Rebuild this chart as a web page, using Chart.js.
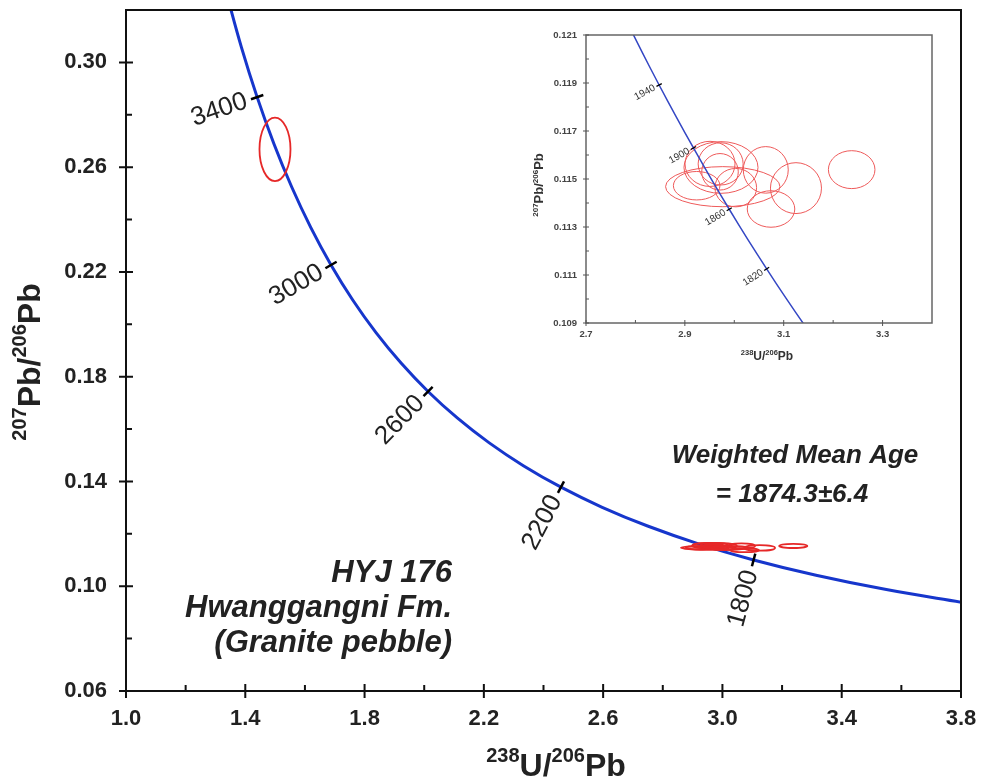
<!DOCTYPE html>
<html><head><meta charset="utf-8">
<script src="https://cdn.jsdelivr.net/npm/chart.js@4.4.1/dist/chart.umd.min.js"></script>
<style>
html,body{margin:0;padding:0;background:#fff}
#wrap{position:relative;width:981px;height:783px;overflow:hidden}
#main{position:absolute;left:0;top:0}
#inset{position:absolute;left:480px;top:20px}
</style>
</head><body>
<div id="wrap"><canvas id="main" width="981" height="783"></canvas><canvas id="inset" width="470" height="355"></canvas></div>
<script>
// ---------- DATA ----------
// Concordia curve (Tera-Wasserburg), ages in Ma
const concAge = [1500,1600,1700,1800,1900,2000,2100,2200,2300,2400,2500,2600,2700,2800,2900,3000,3100,3200,3300,3400,3500,3600];
const concX = [3.81698,3.54967,3.31396,3.10458,2.91738,2.74901,2.59682,2.45857,2.33245,2.21695,2.11081,2.01291,1.92236,1.83837,1.76027,1.68745,1.61941,1.55570,1.49593,1.43975,1.38686,1.33697];
const concY = [0.093597,0.098716,0.104187,0.110036,0.116293,0.122986,0.130150,0.137821,0.146034,0.154831,0.164261,0.174366,0.185201,0.196819,0.209281,0.222656,0.237010,0.252419,0.268963,0.286735,0.305830,0.326344];
const mainTickAges = [1800,2200,2600,3000,3400];

// Inset concordia segment
const insetAge = [1780,1800,1820,1840,1860,1880,1900,1920,1940,1960,1980];
const insetX = [3.14455,3.10458,3.06548,3.02724,2.98982,2.95320,2.91738,2.88229,2.84793,2.81428,2.78133];
const insetY = [0.108834,0.110036,0.111254,0.112487,0.113739,0.115007,0.116293,0.117596,0.118916,0.120255,0.121612];
const insetTickAges = [1820,1860,1900,1940];

// Error ellipses: centre and semi-axes (data units)
const ellX  = [1.4996,2.9767,2.9239,2.9731,2.9509,2.9724,2.9711,3.0030,3.0637,3.1248,3.0743,3.2375];
const ellY  = [0.2668,0.11468,0.11472,0.11548,0.11563,0.11563,0.11530,0.11464,0.11538,0.11462,0.11375,0.11539];
const ellRX = [0.052,0.1157,0.0471,0.0749,0.0506,0.0455,0.037,0.0421,0.0455,0.0516,0.0481,0.0471];
const ellRY = [0.0121,0.000835,0.000593,0.001077,0.00094,0.00088,0.00076,0.0008,0.00097,0.00106,0.00076,0.00079];

// Tick labels
const xTicks = [1.0,1.4,1.8,2.2,2.6,3.0,3.4,3.8];
const xMinor = [1.2,1.6,2.0,2.4,2.8,3.2,3.6];
const yTicks = [0.06,0.10,0.14,0.18,0.22,0.26,0.30];
const yMinor = [0.08,0.12,0.16,0.20,0.24,0.28];
const ixTicks = [2.7,2.9,3.1,3.3];
const ixMinor = [2.8,3.0,3.2];
const iyTicks = [0.109,0.111,0.113,0.115,0.117,0.119,0.121];
const iyMinor = [0.110,0.112,0.114,0.116,0.118,0.120];

// ---------- HELPERS ----------
const FONT = '"Liberation Sans", Arial, Helvetica, sans-serif';

function noPad(s){ s.paddingTop=0; s.paddingBottom=0; s.paddingLeft=0; s.paddingRight=0; }

function drawEllipses(chart, color, lw){
  const {ctx, chartArea:a, scales:{x,y}} = chart;
  ctx.save();
  ctx.beginPath(); ctx.rect(a.left,a.top,a.right-a.left,a.bottom-a.top); ctx.clip();
  ctx.strokeStyle = color; ctx.lineWidth = lw;
  for (let i=0;i<ellX.length;i++){
    const cx = x.getPixelForValue(ellX[i]), cy = y.getPixelForValue(ellY[i]);
    const rx = Math.abs(x.getPixelForValue(ellX[i]+ellRX[i])-cx);
    const ry = Math.abs(y.getPixelForValue(ellY[i]+ellRY[i])-cy);
    ctx.beginPath(); ctx.ellipse(cx,cy,rx,ry,0,0,Math.PI*2); ctx.stroke();
  }
  ctx.restore();
}

function ageMarks(chart, ages, X, Y, list, o){
  const {ctx, scales:{x,y}} = chart;
  ctx.save();
  list.forEach(age=>{
    const i = ages.indexOf(age);
    const px=x.getPixelForValue(X[i]), py=y.getPixelForValue(Y[i]);
    const ax=x.getPixelForValue(X[i-1]), ay=y.getPixelForValue(Y[i-1]);
    const bx=x.getPixelForValue(X[i+1]), by=y.getPixelForValue(Y[i+1]);
    let tx=bx-ax, ty=by-ay; const L=Math.hypot(tx,ty); tx/=L; ty/=L;
    let nx=-ty, ny=tx; if (nx>0){nx=-nx;ny=-ny;}
    ctx.strokeStyle='#000'; ctx.lineWidth=o.tw;
    ctx.beginPath(); ctx.moveTo(px-nx*o.th,py-ny*o.th); ctx.lineTo(px+nx*o.th,py+ny*o.th); ctx.stroke();
    ctx.save();
    ctx.translate(px+nx*o.gap, py+ny*o.gap);
    ctx.rotate(Math.atan2(-ny,-nx));
    ctx.fillStyle=o.color; ctx.font=o.font; ctx.textAlign='right'; ctx.textBaseline='middle';
    ctx.fillText(String(age),0,0);
    ctx.restore();
  });
  ctx.restore();
}

function axisTicks(chart, xMaj, xMin, yMaj, yMin, majIn, majOut, minIn, lw, color){
  const {ctx, chartArea:a, scales:{x,y}} = chart;
  ctx.save(); ctx.strokeStyle=color; ctx.lineWidth=lw; ctx.beginPath();
  xMaj.forEach(v=>{const p=x.getPixelForValue(v); ctx.moveTo(p,a.bottom+majOut); ctx.lineTo(p,a.bottom-majIn);});
  xMin.forEach(v=>{const p=x.getPixelForValue(v); ctx.moveTo(p,a.bottom); ctx.lineTo(p,a.bottom-minIn);});
  yMaj.forEach(v=>{const p=y.getPixelForValue(v); ctx.moveTo(a.left-majOut,p); ctx.lineTo(a.left+majIn,p);});
  yMin.forEach(v=>{const p=y.getPixelForValue(v); ctx.moveTo(a.left,p); ctx.lineTo(a.left+minIn,p);});
  ctx.stroke(); ctx.restore();
}

function drawRich(ctx, parts, cx, by, M, m, raise, color){
  let w=0;
  parts.forEach(p=>{ctx.font='bold '+(p.s?m:M)+'px '+FONT; p.w=ctx.measureText(p.t).width; w+=p.w;});
  let x0=cx-w/2;
  ctx.fillStyle=color; ctx.textAlign='left'; ctx.textBaseline='alphabetic';
  parts.forEach(p=>{ctx.font='bold '+(p.s?m:M)+'px '+FONT; ctx.fillText(p.t,x0,by-(p.s?raise:0)); x0+=p.w;});
}
const yTitleParts = ()=>[{t:'207',s:true},{t:'Pb/'},{t:'206',s:true},{t:'Pb'}];
const xTitleParts = ()=>[{t:'238',s:true},{t:'U/'},{t:'206',s:true},{t:'Pb'}];

// ---------- MAIN CHART ----------
const mainDeco = {
  id:'mainDeco',
  afterDatasetsDraw(chart){
    drawEllipses(chart,'#e62828',1.8);
    ageMarks(chart, concAge, concX, concY, mainTickAges,
      {th:6.5, tw:2.5, gap:11, color:'#222', font:'26px '+FONT});
  },
  afterDraw(chart){
    const {ctx, chartArea:a} = chart;
    ctx.save();
    ctx.strokeStyle='#111'; ctx.lineWidth=2;
    ctx.strokeRect(a.left,a.top,a.right-a.left,a.bottom-a.top);
    ctx.restore();
    axisTicks(chart, xTicks, xMinor, yTicks, yMinor, 7, 7, 6, 2, '#111');
    // axis titles
    ctx.save();
    drawRich(ctx, xTitleParts(), 556, 776, 32, 20, 14, '#222');
    ctx.translate(40, 362); ctx.rotate(-Math.PI/2);
    drawRich(ctx, yTitleParts(), 0, 0, 32, 20, 14, '#222');
    ctx.restore();
    // annotations
    ctx.save();
    ctx.fillStyle='#222';
    ctx.font='italic bold 31px '+FONT; ctx.textAlign='right'; ctx.textBaseline='alphabetic';
    ctx.fillText('HYJ 176', 452, 582);
    ctx.fillText('Hwanggangni Fm.', 452, 617);
    ctx.fillText('(Granite pebble)', 452, 652);
    ctx.font='italic bold 26px '+FONT; ctx.textAlign='center';
    ctx.fillText('Weighted Mean Age', 795, 463);
    ctx.fillText('= 1874.3\u00B16.4', 792, 502);
    ctx.restore();
  }
};

new Chart(document.getElementById('main'), {
  type:'scatter',
  data:{datasets:[{
    data: concX.map((v,i)=>({x:v, y:concY[i]})),
    showLine:true, borderColor:'#1636cc', borderWidth:3, pointRadius:0, tension:0.4, fill:false
  }]},
  options:{
    responsive:false, animation:false, devicePixelRatio:1,
    layout:{padding:{top:10,right:20,left:0,bottom:0}},
    plugins:{legend:{display:false}, tooltip:{enabled:false}},
    scales:{
      x:{type:'linear', min:1.0, max:3.8,
        afterBuildTicks:s=>{s.ticks=xTicks.map(v=>({value:v}));},
        afterFit:s=>{s.height=92; noPad(s);},
        grid:{display:false, drawTicks:false}, border:{display:false},
        ticks:{padding:15, color:'#222', font:{family:FONT,size:22,weight:'bold'}, maxRotation:0, callback:v=>Number(v).toFixed(1)}},
      y:{type:'linear', min:0.06, max:0.32,
        afterBuildTicks:s=>{s.ticks=yTicks.map(v=>({value:v}));},
        afterFit:s=>{s.width=126; noPad(s);},
        grid:{display:false, drawTicks:false}, border:{display:false},
        ticks:{padding:19, color:'#222', font:{family:FONT,size:22,weight:'bold'}, callback:v=>Number(v).toFixed(2)}}
    }
  },
  plugins:[mainDeco]
});

// ---------- INSET CHART ----------
const insetDeco = {
  id:'insetDeco',
  beforeDatasetsDraw(chart){ drawEllipses(chart,'#ee5a5a',1); },
  afterDatasetsDraw(chart){
    ageMarks(chart, insetAge, insetX, insetY, insetTickAges,
      {th:3, tw:1.3, gap:5, color:'#333', font:'10px '+FONT});
  },
  afterDraw(chart){
    const {ctx, chartArea:a} = chart;
    ctx.save();
    ctx.strokeStyle='#666'; ctx.lineWidth=1.5;
    ctx.strokeRect(a.left,a.top,a.right-a.left,a.bottom-a.top);
    ctx.restore();
    axisTicks(chart, ixTicks, ixMinor, iyTicks, iyMinor, 3, 3, 3, 1, '#555');
    ctx.save();
    drawRich(ctx, xTitleParts(), 287, 340, 12, 7.5, 5, '#333');
    ctx.translate(63, 165); ctx.rotate(-Math.PI/2);
    drawRich(ctx, yTitleParts(), 0, 0, 13, 8, 5, '#333');
    ctx.restore();
  }
};

new Chart(document.getElementById('inset'), {
  type:'scatter',
  data:{datasets:[{
    data: insetX.map((v,i)=>({x:v, y:insetY[i]})),
    showLine:true, borderColor:'#3447c4', borderWidth:1.5, pointRadius:0, tension:0.3, fill:false
  }]},
  options:{
    responsive:false, animation:false, devicePixelRatio:1,
    layout:{padding:{top:15,right:18,left:0,bottom:0}},
    plugins:{legend:{display:false}, tooltip:{enabled:false}},
    scales:{
      x:{type:'linear', min:2.7, max:3.4,
        afterBuildTicks:s=>{s.ticks=ixTicks.map(v=>({value:v}));},
        afterFit:s=>{s.height=52; noPad(s);},
        grid:{display:false, drawTicks:false}, border:{display:false},
        ticks:{padding:6, color:'#444', font:{family:FONT,size:9.5,weight:'bold'}, maxRotation:0, callback:v=>Number(v).toFixed(1)}},
      y:{type:'linear', min:0.109, max:0.121,
        afterBuildTicks:s=>{s.ticks=iyTicks.map(v=>({value:v}));},
        afterFit:s=>{s.width=106; noPad(s);},
        grid:{display:false, drawTicks:false}, border:{display:false},
        ticks:{padding:9, color:'#444', font:{family:FONT,size:9.5,weight:'bold'}, callback:v=>Number(v).toFixed(3)}}
    }
  },
  plugins:[insetDeco]
});
</script>
</body></html>
